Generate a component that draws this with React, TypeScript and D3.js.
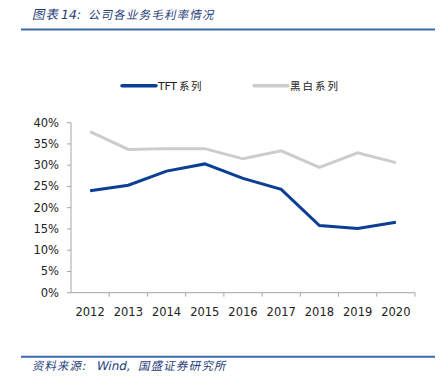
import React from "react";
import * as d3 from "d3";

const categories = ["2012", "2013", "2014", "2015", "2016", "2017", "2018", "2019", "2020"];
const tftSeries = [24.0, 25.3, 28.6, 30.3, 26.9, 24.3, 15.8, 15.1, 16.6];
const bwSeries = [37.9, 33.7, 33.9, 33.9, 31.5, 33.4, 29.5, 32.9, 30.6];
const yTicks = [0, 5, 10, 15, 20, 25, 30, 35, 40];
const seriesNames = ["TFT", "系列", "黑白系列"];

const W = 447, H = 383;
const left = 71, right = 415, top = 122.7, bottom = 292.7;
const BLUE = "#0a3f95";
const GRAY = "#cccccc";
const AXIS = "#a6a6a6";
const FONT = "DejaVu Sans, Verdana, sans-serif";
const CJK = "Noto Sans CJK SC, sans-serif";

export default function App() {
  const x = d3.scaleBand<string>().domain(categories).range([left, right]);
  const y = d3.scaleLinear().domain([0, 40]).range([bottom, top]);
  const line = d3
    .line<number>()
    .x((_, i) => (x(categories[i]) as number) + x.bandwidth() / 2)
    .y((d) => y(d));

  const skew = (ox: number, oy: number) => ({ transform: "skewX(-12deg)", transformOrigin: `${ox}px ${oy}px` });

  return (
    <svg width={W} height={H} style={{ position: "absolute", left: 0, top: 0, background: "#fff" }}>
      <g style={skew(32, 19)} fill="#1f3d7a">
        <text x={32} y={19} fontFamily={CJK} fontSize={12.5} letterSpacing={1}>图表</text>
        <text x={60} y={19} fontFamily={FONT} fontSize={12.5}>14:</text>
        <text x={88} y={19} fontFamily={CJK} fontSize={11.5} letterSpacing={1.2}>公司各业务毛利率情况</text>
      </g>
      <line x1={21} x2={435} y1={29.5} y2={29.5} stroke="#3b6ba8" strokeWidth={2} />

      {/* Legend */}
      <line x1={122} x2={156} y1={85.7} y2={85.7} stroke={BLUE} strokeWidth={3.5} strokeLinecap="round" />
      <text x={158} y={90} fontFamily={FONT} fontSize={11} fill="#222" letterSpacing={-0.3}>{seriesNames[0]}</text>
      <text x={179} y={90} fontFamily={CJK} fontSize={10.5} fill="#222" letterSpacing={1.5}>{seriesNames[1]}</text>
      <line x1={254} x2={288} y1={85.7} y2={85.7} stroke={GRAY} strokeWidth={3.5} strokeLinecap="round" />
      <text x={290} y={90} fontFamily={CJK} fontSize={10.5} fill="#222" letterSpacing={2}>{seriesNames[2]}</text>

      {/* Y axis */}
      <line x1={left} x2={left} y1={top} y2={bottom} stroke={AXIS} strokeWidth={1} />
      {yTicks.map((t) => (
        <g key={t}>
          <line x1={left - 4} x2={left} y1={y(t)} y2={y(t)} stroke={AXIS} />
          <text x={59} y={y(t) + 4} textAnchor="end" fontFamily={FONT} fontSize={11.5} fill="#222">{t}%</text>
        </g>
      ))}

      {/* X axis */}
      <line x1={left} x2={right} y1={bottom} y2={bottom} stroke={AXIS} strokeWidth={1} />
      {categories.map((c) => (
        <line key={"t" + c} x1={(x(c) as number) + x.bandwidth()} x2={(x(c) as number) + x.bandwidth()} y1={bottom} y2={bottom + 4} stroke={AXIS} />
      ))}
      {categories.map((c) => (
        <text key={c} x={(x(c) as number) + x.bandwidth() / 2} y={315.5} textAnchor="middle" fontFamily={FONT} fontSize={11.5} fill="#222">{c}</text>
      ))}

      {/* Lines */}
      <path d={line(bwSeries) || ""} fill="none" stroke={GRAY} strokeWidth={3} />
      <path d={line(tftSeries) || ""} fill="none" stroke={BLUE} strokeWidth={3} />

      <line x1={21} x2={435} y1={356.7} y2={356.7} stroke="#3b6ba8" strokeWidth={2} />
      <g style={skew(32, 370)} fill="#1f3d7a">
        <text x={32} y={370} fontFamily={CJK} fontSize={11.5} letterSpacing={1}>资料来源:</text>
        <text x={96} y={370} fontFamily={FONT} fontSize={12}>Wind,</text>
        <text x={138} y={370} fontFamily={CJK} fontSize={11.5} letterSpacing={1.2}>国盛证券研究所</text>
      </g>
    </svg>
  );
}
